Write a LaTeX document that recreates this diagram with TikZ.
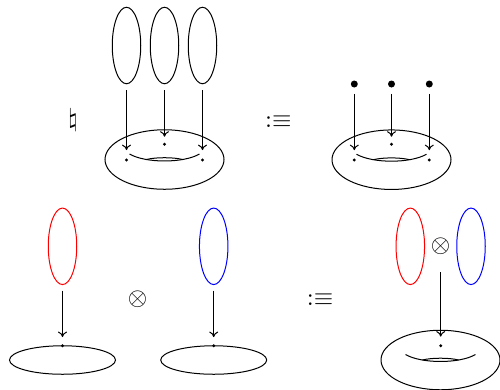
\documentclass[tikz,border=0pt]{standalone}
\usetikzlibrary{shapes.geometric,arrows.meta}
\tikzset{
  loope/.style={draw, ellipse, minimum width=11.4pt, minimum height=30.6pt, inner sep=0pt},
  flate/.style={draw, ellipse, minimum width=42.4pt, minimum height=11.4pt, inner sep=0pt},
  sdot/.style={circle, fill, inner sep=0pt, minimum size=1.3pt},
  bdot/.style={circle, fill, inner sep=0pt, minimum size=2.8pt},
  sym/.style={inner sep=0pt},
  arr/.style={-{To[length=2.2pt, width=3.6pt]}},
  torus/.pic={
    \draw (0,0) ellipse [x radius=23.8pt, y radius=11.9pt];
    \draw (-35,-5.5) .. controls (-19,3.8) and (19,3.8) .. (35,-5.5);
    \draw (-18,0) .. controls (-9,-2.4) and (9,-2.4) .. (18,0);
  }
}
\begin{document}
\begin{tikzpicture}[x=0.4pt,y=-0.4pt,line width=0.4pt]
\useasboundingbox (0,0) rectangle (500,389);
% ---------- top left ----------
\node[sym] (nat) at (73,120.5) {$\natural$};
\node[loope] (a1) at (126.5,45.5) {};
\node[loope] (a2) at (164.5,45.5) {};
\node[loope] (a3) at (202.5,45.5) {};
\pic (T1) at (164.5,159.5) {torus};
\node[sdot] (d1) at (126.5,160) {};
\node[sdot] (d2) at (164.5,144.3) {};
\node[sdot] (d3) at (202.5,160) {};
\draw[arr, shorten <=2.4pt, shorten >=3.1pt] (a1) -- (d1);
\draw[arr, shorten <=2.4pt, shorten >=2.2pt] (a2) -- (d2);
\draw[arr, shorten <=2.4pt, shorten >=3.1pt] (a3) -- (d3);
\node[sym] (eq1) at (278.3,121.5) {$:\equiv$};
% ---------- top right ----------
\node[bdot] (b1) at (354.3,84) {};
\node[bdot] (b2) at (391.5,84) {};
\node[bdot] (b3) at (429.3,84) {};
\pic (T2) at (391.5,159.7) {torus};
\node[sdot] (e1) at (354.3,160) {};
\node[sdot] (e2) at (391.5,144.3) {};
\node[sdot] (e3) at (429.3,160) {};
\draw[arr, shorten <=2.3pt, shorten >=3.1pt] (b1) -- (e1);
\draw[arr, shorten <=2.3pt, shorten >=2.2pt] (b2) -- (e2);
\draw[arr, shorten <=2.3pt, shorten >=3.1pt] (b3) -- (e3);
% ---------- bottom left ----------
\node[loope, red] (r1) at (62.5,246.3) {};
\node[flate] (f1) at (62.5,360) {};
\node[sdot] (g1) at (62.5,345.7) {};
\draw[arr, shorten <=2.2pt, shorten >=2.6pt] (r1) -- (g1);
\node[sym] (ot1) at (137.7,299) {$\otimes$};
\node[loope, blue] (u1) at (213.7,246.3) {};
\node[flate] (f2) at (213.7,360) {};
\node[sdot] (g2) at (213.7,345.7) {};
\draw[arr, shorten <=2.2pt, shorten >=2.6pt] (u1) -- (g2);
\node[sym] (eq2) at (320,299.3) {$:\equiv$};
% ---------- bottom right ----------
\node[loope, red] (r2) at (410.3,246.3) {};
\node[sym] (ot2) at (440.7,246.7) {$\otimes$};
\node[loope, blue] (u2) at (471,246.3) {};
\pic (T3) at (440.5,360) {torus};
\node[sdot] (g3) at (440.7,345.7) {};
\draw[arr, shorten <=6.7pt, shorten >=2.8pt] (ot2) -- (g3);
\end{tikzpicture}
\end{document}
